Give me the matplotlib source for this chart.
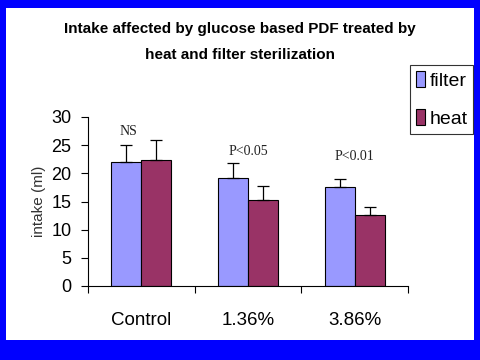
import matplotlib
matplotlib.use("Agg")
from matplotlib import pyplot as plt
import numpy as np

# values
categories = ['Control', '1.36%', '3.86%']
filter_vals = [22.0, 19.1, 17.5]
filter_err = [3.0, 2.7, 1.5]
heat_vals = [22.3, 15.3, 12.6]
heat_err = [3.6, 2.4, 1.4]
notes = ['NS', 'P<0.05', 'P<0.01']
note_y = [26.3, 22.7, 21.8]
note_x = [-0.12, 0.0, 0.0]

plt.rcParams['font.family'] = ['Liberation Sans', 'DejaVu Sans']

fig = plt.figure(figsize=(4.8, 3.6), dpi=100)
fig.patch.set_facecolor('#0000ff')
# white slide panel
bg = fig.add_axes([6 / 480, 20 / 360, 468 / 480, 332 / 360])
bg.set_facecolor('white')
bg.set_xticks([])
bg.set_yticks([])
for s in bg.spines.values():
    s.set_visible(False)

ax = fig.add_axes([88 / 480, 74 / 360, 320 / 480, 169 / 360])
x = np.arange(len(categories))
w = 0.28
err_kw = dict(ecolor='black', elinewidth=0.9, capsize=4, capthick=0.9)
ax.bar(x - w / 2, filter_vals, w, color='#9999ff', edgecolor='black',
       linewidth=0.8, label='filter', yerr=[np.zeros(3), filter_err],
       error_kw=err_kw)
ax.bar(x + w / 2, heat_vals, w, color='#993366', edgecolor='black',
       linewidth=0.8, label='heat', yerr=[np.zeros(3), heat_err],
       error_kw=err_kw)

for i in range(len(categories)):
    ax.text(x[i] + note_x[i], note_y[i], notes[i], ha='center', va='bottom',
            family='Liberation Serif', fontsize=10, color='#222222')

ax.set_xlim(-0.5, 2.5)
ax.set_ylim(0, 30)
ax.set_yticks(range(0, 31, 5))
ax.set_xticks([-0.5, 0.5, 1.5, 2.5])
ax.set_xticklabels([])
ax.set_xticks(x, minor=True)
ax.set_xticklabels(categories, minor=True, fontsize=13.5)
ax.tick_params(axis='x', which='minor', length=0, pad=19)
ax.tick_params(axis='x', which='major', direction='out', length=5, width=0.8)
ax.tick_params(axis='y', direction='out', length=5, width=0.8, labelsize=13,
               pad=7)
ax.spines['top'].set_visible(False)
ax.spines['right'].set_visible(False)
ax.set_facecolor('white')
ax.set_ylabel('intake (ml)', fontsize=11, labelpad=4, color='#333333')

fig.text(0.5, 331 / 360, 'Intake affected by glucose based PDF treated by',
         ha='center', va='center', fontsize=11, weight='bold')
fig.text(0.5, 305 / 360, 'heat and filter sterilization',
         ha='center', va='center', fontsize=11, weight='bold')

leg = fig.legend(loc='upper left', bbox_to_anchor=(410 / 480, 295 / 360),
                 fontsize=14, frameon=True, fancybox=False, handlelength=0.45,
                 handleheight=0.9, handletextpad=0.25, borderpad=0.3,
                 labelspacing=1.0, borderaxespad=0)
leg.get_frame().set_edgecolor('black')
leg.get_frame().set_linewidth(0.8)

fig.savefig('out.png', dpi=100, facecolor=fig.get_facecolor())
